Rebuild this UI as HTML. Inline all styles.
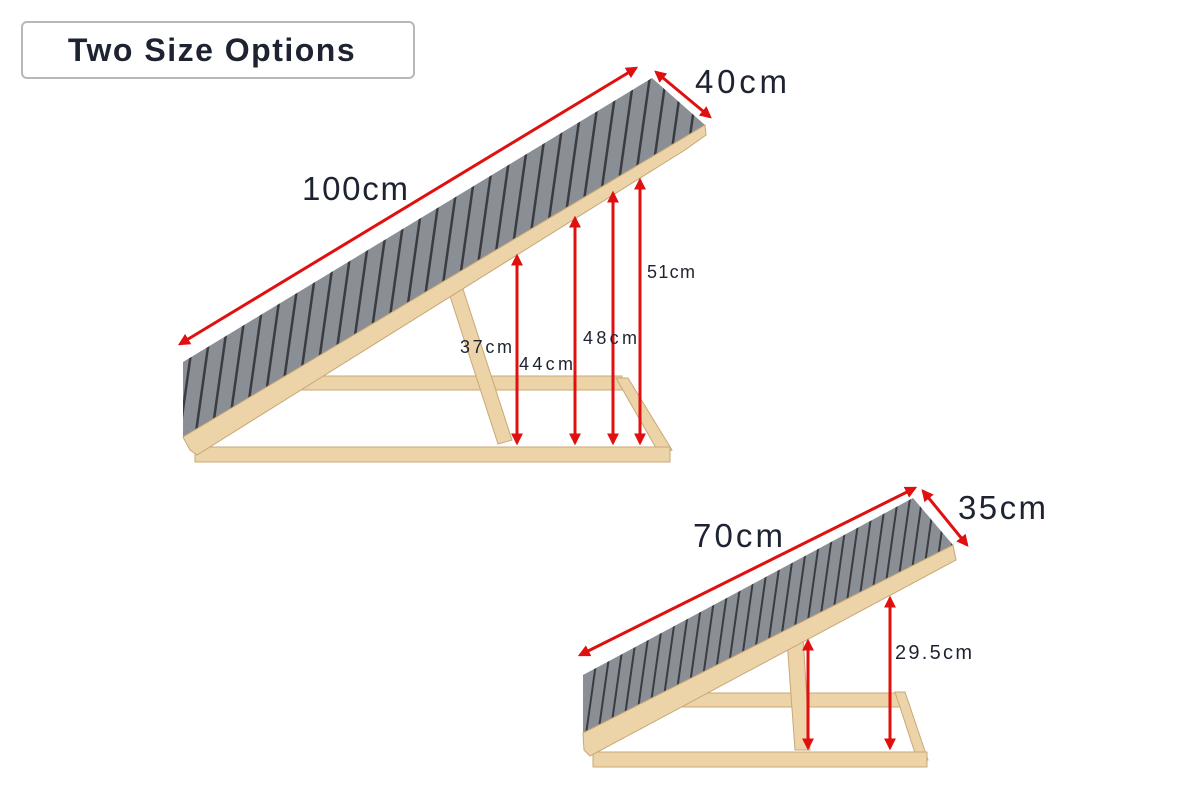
<!DOCTYPE html>
<html><head><meta charset="utf-8"><style>
html,body{margin:0;padding:0;background:#fff;}
svg{display:block}
text{font-family:"Liberation Sans",sans-serif;fill:#1d2330}
</style></head><body>
<svg width="1200" height="800" viewBox="0 0 1200 800" xmlns="http://www.w3.org/2000/svg">
<defs>
<pattern id="cp" width="16" height="16" patternUnits="userSpaceOnUse" patternTransform="rotate(8)">
<rect width="16" height="16" fill="#8a8e95"/><rect x="13" width="2.5" height="16" fill="#3a3c40"/>
</pattern>
<pattern id="cp2" width="12" height="12" patternUnits="userSpaceOnUse" patternTransform="rotate(8)">
<rect width="12" height="12" fill="#8a8e95"/><rect x="9.5" width="2" height="12" fill="#3a3c40"/>
</pattern>
<marker id="ah" viewBox="0 0 10 10" refX="8" refY="5" markerWidth="4" markerHeight="4" orient="auto-start-reverse"><path d="M0,0L10,5L0,10z" fill="#e01010"/></marker>
</defs>
<rect x="22" y="22" width="392" height="56" rx="5" fill="#fff" stroke="#b8b8b8" stroke-width="2"/>
<text x="212" y="61" font-size="32" font-weight="bold" text-anchor="middle" letter-spacing="1.5" fill="#2f2f2f">Two Size Options</text>

<!-- big ramp -->
<g fill="#ecd3a8" stroke="#c9a877" stroke-width="1">
<polygon points="300,376 622,376 622,390 300,390"/>
<polygon points="448,290 462,286 512,440 498,444"/>
<polygon points="616,378 628,378 672,450 660,455"/>
<polygon points="195,447 670,447 670,462 195,462"/>
</g>
<polygon points="183,362 652,78 705,125 183,437" fill="url(#cp)"/>
<polygon points="183,437 705,125 706,135 685,150 197,455 190,450" fill="#ecd3a8" stroke="#c9a877"/>

<!-- small ramp -->
<g fill="#ecd3a8" stroke="#c9a877" stroke-width="1">
<polygon points="680,693 900,693 900,707 680,707"/>
<polygon points="787,640 803,636 810,750 795,750"/>
<polygon points="895,692 905,692 928,760 918,762"/>
<polygon points="593,752 927,752 927,767 593,767"/>
</g>
<polygon points="583,675 913,498 953,545 583,733" fill="url(#cp2)"/>
<polygon points="583,733 953,545 956,560 590,756 584,750" fill="#ecd3a8" stroke="#c9a877"/>

<!-- arrows -->
<g stroke="#e01010" stroke-width="3" marker-start="url(#ah)" marker-end="url(#ah)">
<line x1="180" y1="344" x2="636" y2="68"/>
<line x1="656" y1="72" x2="710" y2="117"/>
<line x1="517" y1="256" x2="517" y2="443"/>
<line x1="575" y1="218" x2="575" y2="443"/>
<line x1="613" y1="193" x2="613" y2="443"/>
<line x1="640" y1="180" x2="640" y2="443"/>
<line x1="580" y1="655" x2="915" y2="488"/>
<line x1="923" y1="491" x2="967" y2="545"/>
<line x1="808" y1="641" x2="808" y2="748"/>
<line x1="890" y1="598" x2="890" y2="748"/>
</g>

<text x="695" y="93" font-size="33" textLength="92">40cm</text>
<text x="302" y="200" font-size="33" textLength="106">100cm</text>
<text x="647" y="278" font-size="18" textLength="48">51cm</text>
<text x="460" y="353" font-size="18" textLength="52">37cm</text>
<text x="519" y="370" font-size="18" textLength="54">44cm</text>
<text x="583" y="344" font-size="18" textLength="54">48cm</text>
<text x="693" y="547" font-size="33" textLength="90">70cm</text>
<text x="958" y="519" font-size="33" textLength="88">35cm</text>
<text x="895" y="659" font-size="20" textLength="77">29.5cm</text>
</svg>
</body></html>
